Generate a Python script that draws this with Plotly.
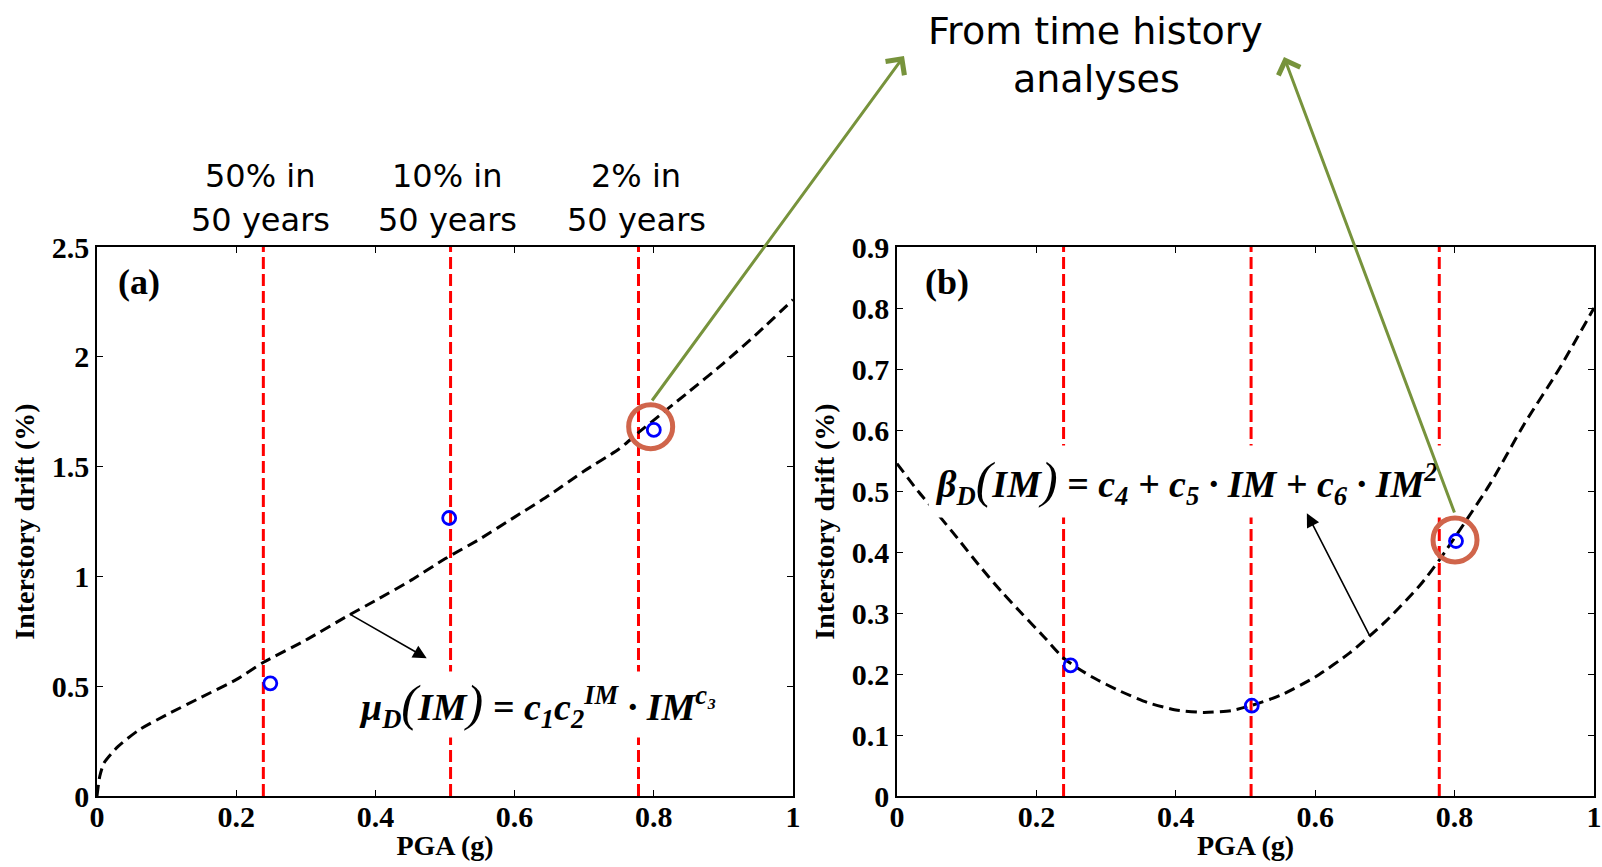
import plotly.graph_objects as go

# ---------------- data ----------------
pga_ticks = [0, 0.2, 0.4, 0.6, 0.8, 1.0]
pga_ticklabels = ["0", "0.2", "0.4", "0.6", "0.8", "1"]
mu_ticks = [0, 0.5, 1.0, 1.5, 2.0, 2.5]
mu_ticklabels = ["0", "0.5", "1", "1.5", "2", "2.5"]
beta_ticks = [0, 0.1, 0.2, 0.3, 0.4, 0.5, 0.6, 0.7, 0.8, 0.9]
beta_ticklabels = ["0", "0.1", "0.2", "0.3", "0.4", "0.5", "0.6", "0.7", "0.8", "0.9"]

hazard_pga = [0.239, 0.508, 0.778]
hazard_line1 = ["50% in", "10% in", "2% in"]
hazard_line2 = ["50 years", "50 years", "50 years"]

mu_curve_pga = [0, 0.004, 0.01, 0.03, 0.06, 0.1, 0.15, 0.2, 0.24, 0.3, 0.36, 0.4, 0.45,
                0.5, 0.55, 0.6, 0.65, 0.7, 0.75, 0.78, 0.85, 0.9, 0.95, 1.0]
mu_curve_val = [0, 0.09, 0.15, 0.225, 0.30, 0.37, 0.45, 0.53, 0.61, 0.71, 0.82, 0.89, 0.98,
                1.08, 1.17, 1.27, 1.37, 1.48, 1.58, 1.66, 1.84, 1.97, 2.11, 2.26]
mu_points_pga = [0.249, 0.506, 0.800]
mu_points_val = [0.513, 1.266, 1.667]
mu_highlight_pga = [0.7955]
mu_highlight_val = [1.682]

beta_curve_pga = [0, 0.03, 0.06, 0.09, 0.12, 0.15, 0.18, 0.21, 0.24, 0.28, 0.32, 0.36, 0.40,
                  0.44, 0.48, 0.51, 0.55, 0.60, 0.65, 0.70, 0.75, 0.78, 0.85, 0.90, 0.95, 1.0]
beta_curve_val = [0.545, 0.50, 0.46, 0.418, 0.375, 0.335, 0.298, 0.262, 0.225, 0.195, 0.172,
                  0.153, 0.141, 0.137, 0.140, 0.149, 0.165, 0.195, 0.235, 0.285, 0.345, 0.39,
                  0.51, 0.61, 0.70, 0.80]
beta_points_pga = [0.249, 0.509, 0.802]
beta_points_val = [0.214, 0.148, 0.418]
beta_highlight_pga = [0.8006]
beta_highlight_val = [0.4197]

# ---------------- layout helpers ----------------
W, H = 1602, 867
def px(x):
    return x / W
def py(y):
    return 1 - y / H

SERIF = "Times New Roman, Liberation Serif, serif"
SANS = "Tahoma, DejaVu Sans, sans-serif"
RED = "#FF0000"
BLUE = "#0000FF"
ORANGE = "#D0654B"
GREEN = "#77933C"

fig = go.Figure()

panels = [
    ("x", "y", mu_ticks[-1], mu_curve_pga, mu_curve_val, mu_points_pga, mu_points_val,
     mu_highlight_pga, mu_highlight_val),
    ("x2", "y2", beta_ticks[-1], beta_curve_pga, beta_curve_val, beta_points_pga, beta_points_val,
     beta_highlight_pga, beta_highlight_val),
]

for xa, ya, ymax, cx, cy, ppx, ppy, hx, hy in panels:
    for v in hazard_pga:
        fig.add_trace(go.Scatter(x=[v, v], y=[0, ymax], mode="lines", xaxis=xa, yaxis=ya,
                                 line=dict(color=RED, width=3, dash="12px,5px"),
                                 showlegend=False, hoverinfo="skip"))
    fig.add_trace(go.Scatter(x=cx, y=cy, mode="lines", xaxis=xa, yaxis=ya,
                             line=dict(color="black", width=3, dash="11px,6px", shape="spline",
                                       smoothing=0.6),
                             showlegend=False))
    fig.add_trace(go.Scatter(x=ppx, y=ppy, mode="markers", xaxis=xa, yaxis=ya,
                             marker=dict(symbol="circle-open", size=13, color=BLUE,
                                         line=dict(color=BLUE, width=2.8)),
                             showlegend=False, cliponaxis=False))
    fig.add_trace(go.Scatter(x=hx, y=hy, mode="markers", xaxis=xa, yaxis=ya,
                             marker=dict(symbol="circle-open", size=44, color=ORANGE,
                                         line=dict(color=ORANGE, width=5)),
                             showlegend=False, cliponaxis=False))

axis_common = dict(showgrid=False, zeroline=False, showline=True, linecolor="black",
                   linewidth=1.5, mirror="allticks", ticks="inside", ticklen=6,
                   tickwidth=1, tickcolor="black", automargin=False,
                   tickfont=dict(family=SERIF, size=30, color="black", weight="bold"))

ydom = [py(796), py(247)]
xtitle = dict(text="<b>PGA (g)</b>", font=dict(family=SERIF, size=28, color="black"), standoff=4)
ytitle = dict(text="<b>Interstory drift (%)</b>", font=dict(family=SERIF, size=28, color="black"),
              standoff=9)
fig.update_layout(
    width=W, height=H, margin=dict(l=0, r=0, t=0, b=0, autoexpand=False),
    paper_bgcolor="white", plot_bgcolor="white", showlegend=False,
    xaxis=dict(domain=[px(97), px(793)], anchor="y", range=[0, 1], ticklabelstandoff=-7,
               tickvals=pga_ticks, ticktext=pga_ticklabels, title=xtitle, **axis_common),
    yaxis=dict(domain=ydom, anchor="x", range=[0, mu_ticks[-1]],
               tickvals=mu_ticks, ticktext=mu_ticklabels, title=ytitle, **axis_common),
    xaxis2=dict(domain=[px(897), px(1594)], anchor="y2", range=[0, 1], ticklabelstandoff=-7,
                tickvals=pga_ticks, ticktext=pga_ticklabels, title=xtitle, **axis_common),
    yaxis2=dict(domain=ydom, anchor="x2", range=[0, beta_ticks[-1]],
                tickvals=beta_ticks, ticktext=beta_ticklabels, title=ytitle, **axis_common),
)

ann = []
# panel labels
for label, cxp in [("(a)", 139), ("(b)", 947)]:
    ann.append(dict(text=f"<b>{label}</b>", x=px(cxp), y=py(282), xref="paper", yref="paper",
                    showarrow=False, xanchor="center", yanchor="middle",
                    font=dict(family=SERIF, size=36, color="black")))

# hazard level labels (centred just left of each dashed line)
hazard_cx = [260, 447, 636]
for cxp, l1, l2 in zip(hazard_cx, hazard_line1, hazard_line2):
    ann.append(dict(text=l1, x=px(cxp), y=py(176), xref="paper", yref="paper", showarrow=False,
                    xanchor="center", yanchor="middle", font=dict(family=SANS, size=32, color="black")))
    ann.append(dict(text=l2, x=px(cxp), y=py(220), xref="paper", yref="paper", showarrow=False,
                    xanchor="center", yanchor="middle", font=dict(family=SANS, size=32, color="black")))

# top caption
ann.append(dict(text="From time history", x=px(1095), y=py(31), xref="paper", yref="paper",
                showarrow=False, xanchor="center", yanchor="middle",
                font=dict(family=SANS, size=38, color="black")))
ann.append(dict(text="analyses", x=px(1096), y=py(79), xref="paper", yref="paper",
                showarrow=False, xanchor="center", yanchor="middle",
                font=dict(family=SANS, size=38, color="black")))

# formulas (white background hides the dashed lines behind them)
BP = "<span style='font-size:50px;font-weight:normal'>(</span>"
EP = "<span style='font-size:50px;font-weight:normal'>)</span>"
formula_a = ("<b><i>μ<sub>D</sub>" + BP + "IM" + EP + " = c<sub>1</sub>c<sub>2</sub><sup>IM</sup>"
             " · IM<sup>c₃</sup></i></b>")
formula_b = ("<b><i>β<sub>D</sub>" + BP + "IM" + EP + " = c<sub>4</sub> + c<sub>5</sub> · IM"
             " + c<sub>6</sub> · IM<sup>2</sup></i></b>")
ann.append(dict(text=formula_a, x=px(537), y=py(704), xref="paper", yref="paper", showarrow=False,
                xanchor="center", yanchor="middle", bgcolor="white", borderpad=3,
                font=dict(family=SERIF, size=38, color="black")))
ann.append(dict(text=formula_b, x=px(1186), y=py(481), xref="paper", yref="paper", showarrow=False,
                xanchor="center", yanchor="middle", bgcolor="white", borderpad=6,
                font=dict(family=SERIF, size=38, color="black")))

# black pointer arrows (data coordinates)
ann.append(dict(text="", x=0.4737, y=0.627, xref="x", yref="y", ax=0.361, ay=0.832,
                axref="x", ayref="y", showarrow=True, arrowhead=2, arrowsize=1.7,
                arrowwidth=1.6, arrowcolor="black"))
ann.append(dict(text="", x=0.588, y=0.4634, xref="x2", yref="y2", ax=0.679, ay=0.261,
                axref="x2", ayref="y2", showarrow=True, arrowhead=2, arrowsize=1.7,
                arrowwidth=1.6, arrowcolor="black"))

# green arrows from highlighted points to caption
ann.append(dict(text="", x=px(904), y=py(56), xref="paper", yref="paper",
                ax=651 - 904, ay=402 - 56, showarrow=True, arrowhead=4, arrowsize=1.5,
                arrowwidth=3, arrowcolor=GREEN))
ann.append(dict(text="", x=px(1284), y=py(57), xref="paper", yref="paper",
                ax=1455 - 1284, ay=514 - 57, showarrow=True, arrowhead=4, arrowsize=1.5,
                arrowwidth=3, arrowcolor=GREEN))

fig.update_layout(annotations=ann)
fig.write_html("out.html")
